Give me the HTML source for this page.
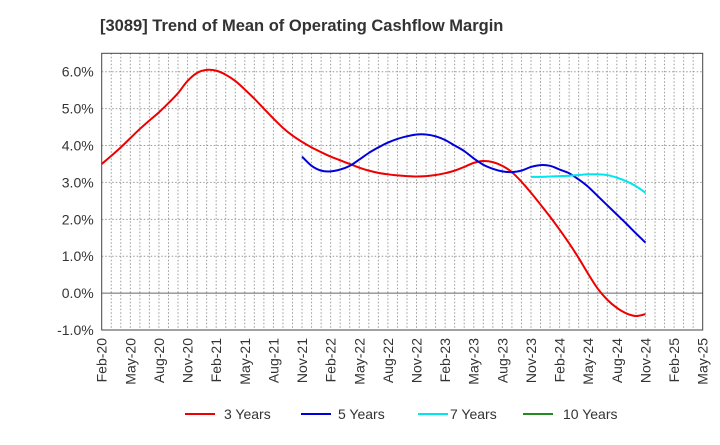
<!DOCTYPE html>
<html><head><meta charset="utf-8"><style>
body{margin:0;background:#fff;font-family:"Liberation Sans",sans-serif;}
svg text{font-family:"Liberation Sans",sans-serif;}
</style></head><body>
<svg id="chart" width="720" height="440">
<text x="100" y="31" font-size="16.5" font-weight="bold" fill="#333">[3089]  Trend of Mean of Operating Cashflow Margin</text>
<g id="grid"></g><g id="axes"></g><g id="series"></g>
<g>
<line x1="185" y1="414" x2="215" y2="414" stroke="#e00" stroke-width="2"/><text x="224" y="419" font-size="14" fill="#333">3 Years</text>
<line x1="301" y1="414" x2="331" y2="414" stroke="#0000dd" stroke-width="2"/><text x="338" y="419" font-size="14" fill="#333">5 Years</text>
<line x1="418" y1="414" x2="448" y2="414" stroke="#00e5ee" stroke-width="2"/><text x="450" y="419" font-size="14" fill="#333">7 Years</text>
<line x1="523" y1="414" x2="553" y2="414" stroke="#228b22" stroke-width="2"/><text x="563" y="419" font-size="14" fill="#333">10 Years</text>
</g>
</svg>
<script>
const xLabels=["Feb-20","May-20","Aug-20","Nov-20","Feb-21","May-21","Aug-21","Nov-21","Feb-22","May-22","Aug-22","Nov-22","Feb-23","May-23","Aug-23","Nov-23","Feb-24","May-24","Aug-24","Nov-24","Feb-25","May-25"];
const yTicks=[-1,0,1,2,3,4,5,6];
const y3Start=0;
const y3=[3.5,3.72,3.95,4.2,4.45,4.68,4.9,5.15,5.42,5.75,5.97,6.05,6.03,5.92,5.75,5.52,5.27,5.0,4.73,4.48,4.27,4.1,3.95,3.82,3.7,3.6,3.5,3.4,3.32,3.26,3.22,3.19,3.17,3.16,3.17,3.2,3.25,3.32,3.42,3.53,3.58,3.55,3.45,3.28,3.02,2.72,2.4,2.07,1.72,1.35,0.95,0.52,0.12,-0.18,-0.4,-0.55,-0.62,-0.57];
const y5Start=21;
const y5=[3.7,3.45,3.32,3.3,3.35,3.45,3.62,3.8,3.95,4.08,4.18,4.25,4.3,4.3,4.25,4.15,4.0,3.85,3.65,3.48,3.37,3.3,3.28,3.32,3.42,3.47,3.45,3.35,3.25,3.08,2.88,2.63,2.38,2.13,1.88,1.62,1.37];
const y7Start=45;
const y7=[3.15,3.15,3.16,3.17,3.18,3.2,3.22,3.22,3.2,3.13,3.03,2.9,2.72];
const y10=[];
const L=101.7,R=702.7,T=53.3,B=330,NM=63,YMIN=-1,YMAX=6.5;
const xs=m=>L+m*(R-L)/NM;
const ys=v=>B-(v-YMIN)*(B-T)/(YMAX-YMIN);
const NS="http://www.w3.org/2000/svg";
function mk(t,a,p){const e=document.createElementNS(NS,t);for(const k in a)e.setAttribute(k,a[k]);p.appendChild(e);return e;}
const grid=document.getElementById('grid'),axes=document.getElementById('axes'),ser=document.getElementById('series');
for(let m=1;m<NM;m++){const l=mk('line',{x1:xs(m),x2:xs(m),y1:T,y2:B,stroke:'#999','stroke-dasharray':'1.5,2','stroke-width':1},grid);

}
yTicks.forEach(v=>{if(v===YMIN)return;const l=mk('line',{x1:L,x2:R,y1:ys(v),y2:ys(v),stroke:v===0?'#666':'#999','stroke-dasharray':v===0?'':'1.5,2','stroke-width':1},grid);

});
const fr=mk('rect',{x:L,y:T,width:R-L,height:B-T,fill:'none',stroke:'#444','stroke-width':1},axes);


yTicks.forEach(v=>{const t=mk('text',{x:L-8,y:ys(v)+5,'text-anchor':'end','font-size':14,fill:'#333'},axes);t.textContent=v.toFixed(1)+'%';

});
xLabels.forEach((s,i)=>{const x=xs(i*3)+5,y=B+8;const t=mk('text',{x:x,y:y,'text-anchor':'end','font-size':14,fill:'#333',transform:`rotate(-90 ${x} ${y})`},axes);t.textContent=s;

});
function path(start,vals){const p=vals.map((v,i)=>[xs(start+i),ys(v)]);if(p.length<2)return '';let d=`M${p[0][0]},${p[0][1]}`;
for(let i=0;i<p.length-1;i++){const p0=p[Math.max(i-1,0)],p1=p[i],p2=p[i+1],p3=p[Math.min(i+2,p.length-1)];
d+=` C${p1[0]+(p2[0]-p0[0])/6},${p1[1]+(p2[1]-p0[1])/6} ${p2[0]-(p3[0]-p1[0])/6},${p2[1]-(p3[1]-p1[1])/6} ${p2[0]},${p2[1]}`;}return d;}
[[y3Start,y3,'#e00','line-3-years'],[y5Start,y5,'#0000dd','line-5-years'],[y7Start,y7,'#00e5ee','line-7-years'],[0,y10,'#228b22','line-10-years']].forEach(s=>{
const d=path(s[0],s[1]);if(!d)return;const e=mk('path',{d:d,fill:'none',stroke:s[2],'stroke-width':2},ser);

});
</script>
</body></html>
